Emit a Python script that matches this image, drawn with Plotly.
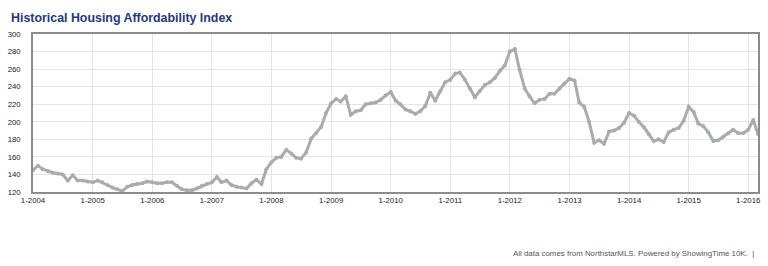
import pandas as pd
import plotly.graph_objects as go

# Monthly Housing Affordability Index, Jan 2004 - Mar 2016
start_month = "2004-01-01"
values_2004 = [145, 150, 146, 144, 142, 141, 140, 133, 139, 133, 133, 132]
values_2005 = [131, 133, 131, 128, 125, 123, 121, 126, 128, 129, 130, 132]
values_2006 = [131, 130, 130, 131, 131, 127, 123, 122, 122, 124, 127, 129]
values_2007 = [131, 137, 131, 133, 128, 126, 125, 124, 130, 134, 129, 146]
values_2008 = [154, 159, 160, 168, 164, 159, 158, 165, 181, 187, 194, 210]
values_2009 = [221, 226, 223, 229, 208, 212, 213, 220, 221, 222, 225, 230]
values_2010 = [234, 224, 220, 214, 212, 209, 212, 218, 233, 224, 235, 245]
values_2011 = [248, 255, 256, 248, 238, 228, 235, 242, 245, 250, 258, 264]
values_2012 = [280, 283, 259, 238, 229, 221, 225, 226, 232, 232, 238, 244]
values_2013 = [249, 247, 222, 217, 200, 176, 179, 175, 189, 190, 193, 199]
values_2014 = [210, 207, 200, 194, 186, 178, 180, 177, 188, 191, 193, 201]
values_2015 = [217, 211, 198, 195, 188, 178, 179, 183, 187, 191, 187, 187]
values_2016 = [191, 202, 186]

index_values = (values_2004 + values_2005 + values_2006 + values_2007 + values_2008
                + values_2009 + values_2010 + values_2011 + values_2012 + values_2013
                + values_2014 + values_2015 + values_2016)
months = pd.date_range(start_month, periods=len(index_values), freq="MS")

tick_dates = ["2004-01-01", "2005-01-01", "2006-01-01", "2007-01-01", "2008-01-01",
              "2009-01-01", "2010-01-01", "2011-01-01", "2012-01-01", "2013-01-01",
              "2014-01-01", "2015-01-01", "2016-01-01"]
tick_labels = ["1-2004", "1-2005", "1-2006", "1-2007", "1-2008", "1-2009", "1-2010",
               "1-2011", "1-2012", "1-2013", "1-2014", "1-2015", "1-2016"]
y_ticks = [120, 140, 160, 180, 200, 220, 240, 260, 280, 300]

title_text = "Historical Housing Affordability Index"
footer_text = "All data comes from NorthstarMLS. Powered by ShowingTime 10K.  |"

W, H = 768, 266
ML, MR, MT, MB = 30, 8, 34, 74

fig = go.Figure()
fig.add_trace(go.Scatter(
    x=months, y=index_values, mode="lines+markers",
    line=dict(color="#a9acaf", width=3),
    marker=dict(color="#a9acaf", size=4),
    hoverinfo="skip", showlegend=False,
))

axis_font = dict(family="Liberation Sans, Arial, sans-serif", size=7.8, color="#222222")

fig.update_layout(
    width=W, height=H,
    margin=dict(l=ML, r=MR, t=MT, b=MB, pad=0),
    paper_bgcolor="white", plot_bgcolor="white",
    title=dict(
        text="<b>" + title_text + "</b>",
        font=dict(family="Liberation Sans, Arial, sans-serif", size=12.4, color="#233a7c"),
        xref="container", yref="container",
        x=11 / W, xanchor="left",
        y=1 - 18 / H, yanchor="middle",
    ),
    xaxis=dict(
        type="date", range=[months[0], months[-1]],
        tickvals=tick_dates, ticktext=tick_labels,
        showgrid=True, gridcolor="#e4e4e4", gridwidth=1,
        showline=True, linecolor="#8c8c8c", linewidth=1.5, mirror=True,
        ticks="", tickfont=axis_font, ticklabelstandoff=0,
        zeroline=False,
    ),
    yaxis=dict(
        range=[120, 300], tickvals=y_ticks,
        showgrid=True, gridcolor="#e4e4e4", gridwidth=1,
        showline=True, linecolor="#8c8c8c", linewidth=1.5, mirror=True,
        ticks="", tickfont=axis_font, ticklabelstandoff=9,
        zeroline=False,
    ),
    annotations=[dict(
        text=footer_text, xref="paper", yref="paper",
        x=(758 - ML) / (W - ML - MR), xanchor="right",
        y=(H - MB - 253) / (H - MT - MB), yanchor="middle",
        showarrow=False,
        font=dict(family="Liberation Sans, Arial, sans-serif", size=7.9, color="#555555"),
    )],
)

fig.write_html("out.html")
